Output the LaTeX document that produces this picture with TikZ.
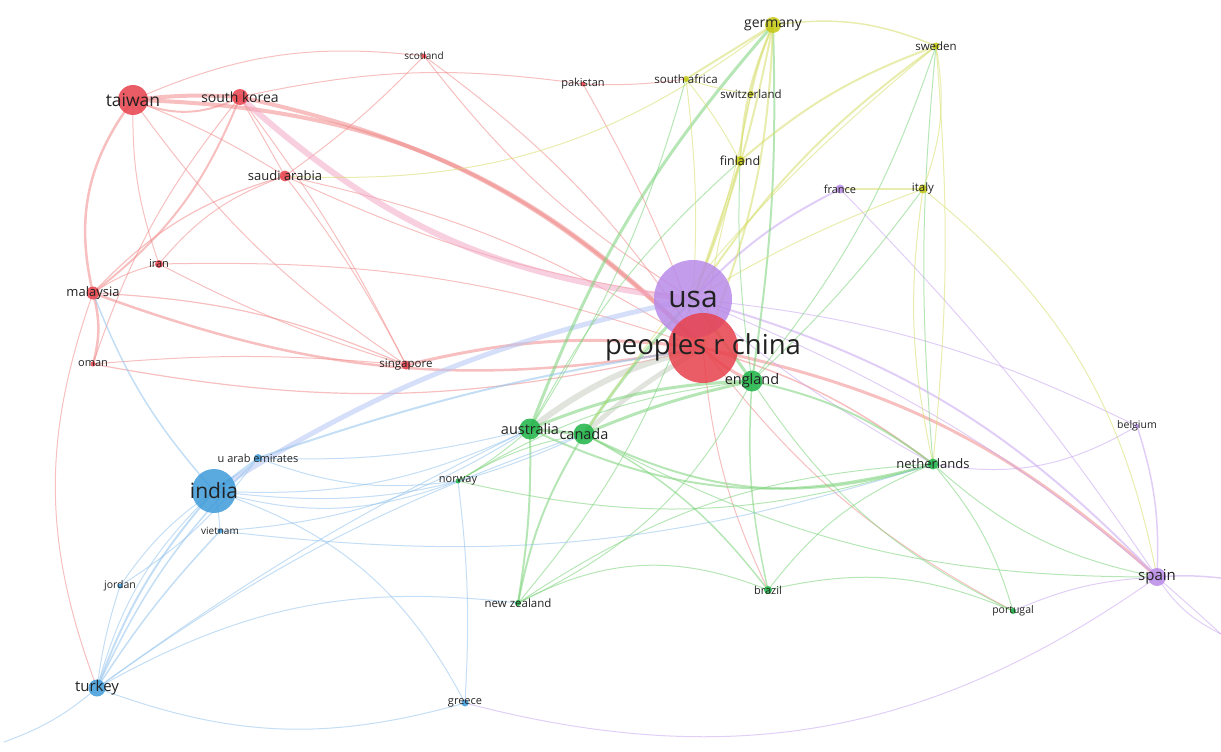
\documentclass[tikz,border=0pt]{standalone}
\usepackage{fontspec}
\setmainfont{Open Sans}
\usetikzlibrary{backgrounds}

\definecolor{cred}{HTML}{E8414B}
\definecolor{cpurple}{HTML}{B98BE8}
\definecolor{cgreen}{HTML}{1DB347}
\definecolor{cblue}{HTML}{3D9BD9}
\definecolor{cyellow}{HTML}{C5C813}
\definecolor{ered}{HTML}{F08A8A}
\definecolor{epink}{HTML}{F2A8C4}
\definecolor{epurple}{HTML}{C9A6F0}
\definecolor{egreen}{HTML}{7CD27A}
\definecolor{eblue}{HTML}{93C3EC}
\definecolor{elav}{HTML}{B4C4F4}
\definecolor{eyellow}{HTML}{D6DD6A}
\definecolor{egray}{HTML}{C8CEC0}
\definecolor{labtext}{HTML}{222222}

\newcommand\labsz[1]{\fontsize{#1}{#1}\selectfont}

\tikzset{
  cnode/.style={circle, inner sep=0pt, draw=none, fill opacity=0.85},
  lab/.style={text=labtext, text opacity=1, fill opacity=1, inner sep=0pt},
  link/.style={draw opacity=0.55, line cap=round}
}

\begin{document}
\begin{tikzpicture}[x=1pt, y=-1pt]
    \useasboundingbox (0,0) rectangle (1221,752);

    % red cluster
    \node[cnode, fill=cred, minimum size=30, label={[lab, font=\labsz{17.5}]center:taiwan}] (taiwan) at (133,100) {};
    \node[cnode, fill=cred, minimum size=16, label={[lab, font=\labsz{14}]center:south korea}] (southkorea) at (240,97) {};
    \node[cnode, fill=cred, minimum size=5, label={[lab, font=\labsz{10}]center:scotland}] (scotland) at (424,56) {};
    \node[cnode, fill=cred, minimum size=5, label={[lab, font=\labsz{11}]center:pakistan}] (pakistan) at (583,84) {};
    \node[cnode, fill=cred, minimum size=11, label={[lab, font=\labsz{13}]center:saudi arabia}] (saudiarabia) at (285,176) {};
    \node[cnode, fill=cred, minimum size=8, label={[lab, font=\labsz{11}]center:iran}] (iran) at (159,264) {};
    \node[cnode, fill=cred, minimum size=13, label={[lab, font=\labsz{13}]center:malaysia}] (malaysia) at (93,293) {};
    \node[cnode, fill=cred, minimum size=5, label={[lab, font=\labsz{11}]center:oman}] (oman) at (93,364) {};
    \node[cnode, fill=cred, minimum size=9, label={[lab, font=\labsz{11.5}]center:singapore}] (singapore) at (406,365) {};

    % purple cluster
    \node[cnode, fill=cpurple, minimum size=78, label={[lab, font=\labsz{30}]center:usa}] (usa) at (693,299) {};
    \node[cnode, fill=cred, minimum size=70] (china) at (703,348) {};
    \node[cnode, fill=cpurple, minimum size=9, label={[lab, font=\labsz{11}]center:france}] (france) at (840,189) {};
    \node[cnode, fill=cpurple, minimum size=4, label={[lab, font=\labsz{10.5}]center:belgium}] (belgium) at (1137,426) {};
    \node[cnode, fill=cpurple, minimum size=18, label={[lab, font=\labsz{15}]center:spain}] (spain) at (1157,577) {};
    \node[lab, font=\labsz{27.5}] (chinalab) at (703,347) {peoples r china};

    % green cluster
    \node[cnode, fill=cgreen, minimum size=21, label={[lab, font=\labsz{14.5}]center:england}] (england) at (752,381) {};
    \node[cnode, fill=cgreen, minimum size=21, label={[lab, font=\labsz{14.5}]center:australia}] (australia) at (530,429) {};
    \node[cnode, fill=cgreen, minimum size=21, label={[lab, font=\labsz{14.5}]center:canada}] (canada) at (584,434) {};
    \node[cnode, fill=cgreen, minimum size=5, label={[lab, font=\labsz{11}]center:norway}] (norway) at (458,481) {};
    \node[cnode, fill=cgreen, minimum size=6, label={[lab, font=\labsz{11.5}]center:new zealand}] (newzealand) at (518,603) {};
    \node[cnode, fill=cgreen, minimum size=8, label={[lab, font=\labsz{11}]center:brazil}] (brazil) at (768,590) {};
    \node[cnode, fill=cgreen, minimum size=6, label={[lab, font=\labsz{10.5}]center:portugal}] (portugal) at (1013,611) {};
    \node[cnode, fill=cgreen, minimum size=11, label={[lab, font=\labsz{13}]center:netherlands}] (netherlands) at (933,464) {};

    % blue cluster
    \node[cnode, fill=cblue, minimum size=8, label={[lab, font=\labsz{11}]center:u arab emirates}] (uae) at (258,458) {};
    \node[cnode, fill=cblue, minimum size=44, label={[lab, font=\labsz{21}]center:india}] (india) at (214,491) {};
    \node[cnode, fill=cblue, minimum size=5, label={[lab, font=\labsz{10}]center:vietnam}] (vietnam) at (220,531) {};
    \node[cnode, fill=cblue, minimum size=5, label={[lab, font=\labsz{10.5}]center:jordan}] (jordan) at (120,586) {};
    \node[cnode, fill=cblue, minimum size=17, label={[lab, font=\labsz{15}]center:turkey}] (turkey) at (97,688) {};
    \node[cnode, fill=cblue, minimum size=7, label={[lab, font=\labsz{11}]center:greece}] (greece) at (465,703) {};

    % yellow cluster
    \node[cnode, fill=cyellow, minimum size=16, label={[lab, font=\labsz{14}]center:germany}] (germany) at (773,25) {};
    \node[cnode, fill=cyellow, minimum size=6, label={[lab, font=\labsz{11.5}]center:south africa}] (southafrica) at (686,79) {};
    \node[cnode, fill=cyellow, minimum size=6, label={[lab, font=\labsz{11.5}]center:switzerland}] (switzerland) at (751,94) {};
    \node[cnode, fill=cyellow, minimum size=7, label={[lab, font=\labsz{11.5}]center:sweden}] (sweden) at (936,46) {};
    \node[cnode, fill=cyellow, minimum size=10, label={[lab, font=\labsz{12.5}]center:finland}] (finland) at (740,161) {};
    \node[cnode, fill=cyellow, minimum size=9, label={[lab, font=\labsz{11.5}]center:italy}] (italy) at (923,189) {};

    % links leaving the frame
    \coordinate (eastA) at (1221,578);
    \coordinate (eastB) at (1221,634);
    \coordinate (westA) at (4,742);

    \begin{scope}[on background layer]
    % red links
    \foreach \a/\b/\w/\bb in {taiwan/southkorea/4/5, taiwan/southkorea/2/-25, taiwan/malaysia/2.5/-25,
        taiwan/china/4/22, southkorea/china/4/16, southkorea/malaysia/2/15, malaysia/china/2.5/-15,
        malaysia/iran/1/10, malaysia/saudiarabia/1.2/15, malaysia/oman/2.5/15, malaysia/turkey/1/-20,
        saudiarabia/china/1/10, saudiarabia/southkorea/1/0, saudiarabia/iran/1/-15, saudiarabia/singapore/1/5,
        southkorea/singapore/1/5, taiwan/singapore/1/-10, taiwan/saudiarabia/1/5, singapore/china/3/10,
        iran/china/1/10, iran/singapore/1/-5, oman/china/1.2/-12, oman/singapore/1/5,
        pakistan/china/1/5, pakistan/southafrica/1/-5, pakistan/southkorea/1/-10, scotland/china/1/10,
        scotland/taiwan/1/-15, scotland/saudiarabia/1/5, china/spain/3/15, china/england/3/-10,
        china/netherlands/1.5/10, china/brazil/1/-10, taiwan/iran/1/-10, southkorea/oman/1/-10,
        malaysia/singapore/1.2/10, saudiarabia/usa/1/-8, scotland/usa/1/-10, china/portugal/1/-12}
        \draw[link, ered, line width=\w] (\a.center) to[bend left=\bb] (\b.center);
    \draw[link, epink, line width=6] (southkorea.center) to[bend left=-18] (usa.center);
    \draw[link, egray, line width=6] (china.center) to[bend left=-12] (australia.center);
    \draw[link, egray, line width=5] (china.center) to[bend left=-6] (canada.center);

    % purple links
    \foreach \a/\b/\w/\bb in {usa/spain/2/15, usa/france/2/10, usa/belgium/1/10, spain/belgium/1.5/-10,
        spain/france/1/-5, greece/spain/1/-25, spain/eastA/1.5/5, spain/eastB/1/-15,
        usa/netherlands/1/-5, portugal/spain/1/10, usa/eastB/1/10, netherlands/belgium/1/-20}
        \draw[link, epurple, line width=\w] (\a.center) to[bend left=\bb] (\b.center);
    \draw[link, elav, line width=5] (india.center) to[bend left=10] (usa.center);

    % green links
    \foreach \a/\b/\w/\bb in {australia/canada/3/0, australia/england/3/10, canada/england/3/5,
        australia/newzealand/2/5, canada/newzealand/2/-10, australia/norway/1/5, australia/netherlands/2/-20,
        england/netherlands/2/12, canada/netherlands/2/-22, england/brazil/1.5/-8, canada/brazil/1.5/12,
        netherlands/brazil/1/-15, netherlands/portugal/1/12, england/portugal/1/-15, brazil/portugal/1/18,
        netherlands/spain/1/-15, australia/germany/3/10, england/germany/2/-5, england/usa/3/0,
        canada/usa/3/5, newzealand/usa/1/-10, norway/england/1/12, australia/finland/1/10,
        england/finland/1/5, england/sweden/1/-10, netherlands/sweden/1/5, england/italy/1/-5,
        southafrica/australia/1/8, newzealand/england/1/-18, norway/netherlands/1/-15,
        newzealand/netherlands/1/15, brazil/newzealand/1/-25, canada/spain/1/-14, norway/canada/1/10}
        \draw[link, egreen, line width=\w] (\a.center) to[bend left=\bb] (\b.center);

    % blue links
    \foreach \a/\b/\w/\bb in {india/turkey/2/-10, uae/turkey/1.5/-10, vietnam/turkey/1.5/-5,
        jordan/turkey/1/-5, india/jordan/1/-10, india/uae/2/0, india/vietnam/1/5, uae/china/2/5,
        india/australia/1/-14, india/canada/1/-16, uae/norway/1/-14, uae/australia/1/-8,
        vietnam/australia/1/-14, turkey/greece/1/-18, turkey/newzealand/1/18, india/greece/1/22,
        greece/norway/1/-5, turkey/westA/1/10, malaysia/india/1.5/-10, turkey/australia/1/5,
        turkey/canada/1/8, jordan/uae/1/-10, vietnam/netherlands/1/-12, india/norway/1/-18,
        turkey/india/1/15}
        \draw[link, eblue, line width=\w] (\a.center) to[bend left=\bb] (\b.center);

    % yellow links
    \foreach \a/\b/\w/\bb in {germany/sweden/1.5/15, germany/finland/2/-10, germany/switzerland/2/-5,
        germany/southafrica/2/0, germany/usa/2/5, sweden/finland/2/-10, sweden/italy/1/15,
        sweden/usa/2/-10, sweden/netherlands/1/5, finland/usa/1.5/0, italy/france/2/0, italy/usa/1/-5,
        italy/spain/1/20, italy/netherlands/1/-10, southafrica/usa/1/5, southafrica/switzerland/1/-5,
        switzerland/finland/1/-5, switzerland/usa/1/5, germany/saudiarabia/1/20, germany/china/2/10,
        finland/china/1/-5, sweden/canada/1/-8, southafrica/finland/1/5}
        \draw[link, eyellow, line width=\w] (\a.center) to[bend left=\bb] (\b.center);
    \end{scope}
\end{tikzpicture}
\end{document}
